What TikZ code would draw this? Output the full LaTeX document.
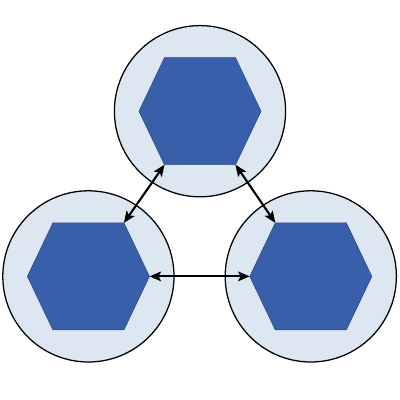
\documentclass[tikz,border=0pt]{standalone}
\usetikzlibrary{arrows.meta}
\definecolor{ring-fill}{HTML}{DDE7F2}
\definecolor{core-blue}{HTML}{395EAA}
\definecolor{core-edge}{HTML}{2A4885}

\tikzset{
  pics/hexcore/.style={code={
    \fill[core-blue, draw=core-edge, line width=0.4pt]
      (-1.525,0) -- (-0.8875,1.3375) -- (0.8875,1.3375) -- (1.525,0)
      -- (0.8875,-1.3375) -- (-0.8875,-1.3375) -- cycle;
    \coordinate (-w) at (-1.525,0);
    \coordinate (-e) at (1.525,0);
    \coordinate (-nw) at (-0.8875,1.3375);
    \coordinate (-ne) at (0.8875,1.3375);
    \coordinate (-sw) at (-0.8875,-1.3375);
    \coordinate (-se) at (0.8875,-1.3375);
  }}
}

\begin{document}
\begin{tikzpicture}[
    ring/.style={circle, draw=black, line width=0.9pt, fill=ring-fill,
      minimum size=4.28cm, inner sep=0pt},
    link/.style={{Stealth[length=2.9mm,width=2.4mm,inset=0.6mm]}-{Stealth[length=2.9mm,width=2.4mm,inset=0.6mm]},
      line width=1.5pt}]
  \useasboundingbox (0,0) rectangle (10,10);
  % rings
  \node[ring] (ringT) at (5, 7.22) {};
  \node[ring] (ringL) at (2.21, 3.09) {};
  \node[ring] (ringR) at (7.77, 3.09) {};
  % hexagons
  \pic (hexT) at (ringT.center) {hexcore};
  \pic (hexL) at (ringL.center) {hexcore};
  \pic (hexR) at (ringR.center) {hexcore};
  % links
  \draw[link] (hexT-sw) -- (hexL-ne);
  \draw[link] (hexT-se) -- (hexR-nw);
  \draw[link] (hexL-e) -- (hexR-w);
\end{tikzpicture}
\end{document}
